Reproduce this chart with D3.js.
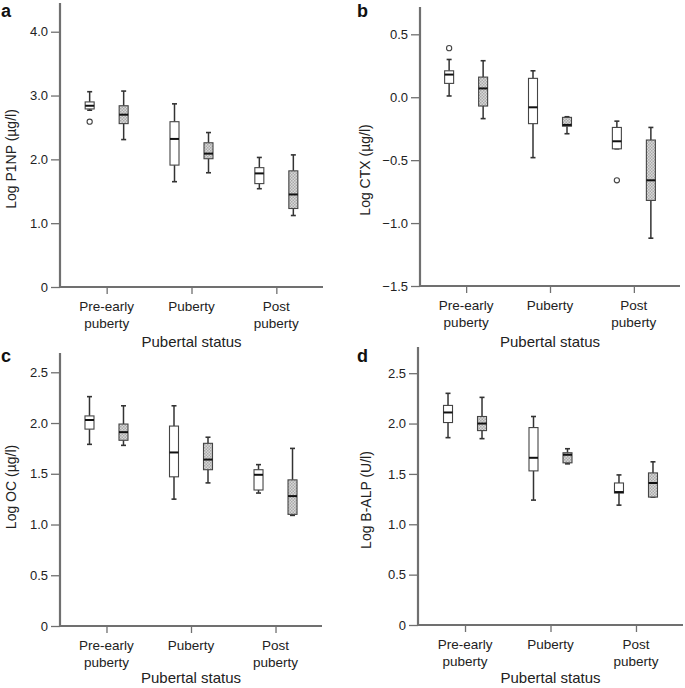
<!DOCTYPE html>
<html>
<head>
<meta charset="utf-8">
<script src="https://cdn.jsdelivr.net/npm/d3@7"></script>
<style>
  html, body { margin: 0; padding: 0; background: #fff; }
  svg { display: block; font-family: "Liberation Sans", Arial, sans-serif; }
</style>
</head>
<body>
<svg id="chart" width="685" height="688"></svg>
<script>
// ---------- DATA ----------
const categories = ["Pre-early puberty", "Puberty", "Post puberty"];
const categoryLines = [["Pre-early", "puberty"], ["Puberty"], ["Post", "puberty"]];
const groups = ["Group 1", "Group 2"];
const xTitle = "Pubertal status";

// five-number summaries per category: [lower whisker, Q1, median, Q3, upper whisker]
const p1npGroup1 = [[2.77, 2.79, 2.84, 2.90, 3.06], [1.65, 1.91, 2.32, 2.59, 2.87], [1.54, 1.62, 1.78, 1.87, 2.03]];
const p1npGroup2 = [[2.31, 2.56, 2.70, 2.84, 3.07], [1.79, 2.01, 2.09, 2.26, 2.42], [1.12, 1.23, 1.45, 1.82, 2.07]];
const p1npOutliers = [{ cat: 0, group: 0, value: 2.59 }];
const p1npTicks = [0, 1, 2, 3, 4];
const p1npTickLabels = ["0", "1.0", "2.0", "3.0", "4.0"];

const ctxGroup1 = [[0.01, 0.11, 0.18, 0.21, 0.30], [-0.48, -0.21, -0.08, 0.15, 0.21], [-0.41, -0.41, -0.35, -0.24, -0.19]];
const ctxGroup2 = [[-0.17, -0.07, 0.07, 0.16, 0.29], [-0.29, -0.23, -0.22, -0.16, -0.155], [-1.12, -0.82, -0.66, -0.34, -0.24]];
const ctxOutliers = [{ cat: 0, group: 0, value: 0.39 }, { cat: 2, group: 0, value: -0.66 }];
const ctxTicks = [-1.5, -1.0, -0.5, 0.0, 0.5];
const ctxTickLabels = ["\u22121.5", "\u22121.0", "\u22120.5", "0.0", "0.5"];

const ocGroup1 = [[1.79, 1.94, 2.03, 2.07, 2.26], [1.25, 1.47, 1.71, 1.97, 2.17], [1.31, 1.34, 1.49, 1.54, 1.59]];
const ocGroup2 = [[1.78, 1.83, 1.91, 1.99, 2.17], [1.41, 1.54, 1.64, 1.80, 1.86], [1.09, 1.10, 1.28, 1.44, 1.75]];
const ocOutliers = [];
const ocTicks = [0, 0.5, 1.0, 1.5, 2.0, 2.5];
const ocTickLabels = ["0", "0.5", "1.0", "1.5", "2.0", "2.5"];

const balpGroup1 = [[1.86, 2.01, 2.11, 2.18, 2.30], [1.24, 1.53, 1.66, 1.96, 2.07], [1.19, 1.31, 1.32, 1.41, 1.49]];
const balpGroup2 = [[1.85, 1.93, 2.00, 2.07, 2.26], [1.60, 1.61, 1.69, 1.71, 1.75], [1.27, 1.27, 1.41, 1.51, 1.62]];
const balpOutliers = [];
const balpTicks = [0, 0.5, 1.0, 1.5, 2.0, 2.5];
const balpTickLabels = ["0", "0.5", "1.0", "1.5", "2.0", "2.5"];

// ---------- LAYOUT ----------
const panels = [
  { letter: "a", lx: 1, ly: 17, x0: 60, x1: 323, yTop: 3, yBottom: 287, domain: [0, 4.45], titleGap: 60,
    title: "Log P1NP (\u00b5g/l)", tx: 16, ty: 159,
    g1: p1npGroup1, g2: p1npGroup2, outliers: p1npOutliers, ticks: p1npTicks, tickLabels: p1npTickLabels },
  { letter: "b", lx: 357, ly: 17, x0: 420, x1: 680, yTop: 7, yBottom: 286, domain: [-1.5, 0.717], titleGap: 61,
    title: "Log CTX (\u00b5g/l)", tx: 370, ty: 170,
    g1: ctxGroup1, g2: ctxGroup2, outliers: ctxOutliers, ticks: ctxTicks, tickLabels: ctxTickLabels },
  { letter: "c", lx: 1, ly: 362, x0: 60, x1: 322, yTop: 353, yBottom: 626, domain: [0, 2.69], titleGap: 57,
    title: "Log OC (\u00b5g/l)", tx: 16, ty: 487,
    g1: ocGroup1, g2: ocGroup2, outliers: ocOutliers, ticks: ocTicks, tickLabels: ocTickLabels },
  { letter: "d", lx: 357, ly: 362, x0: 418, x1: 683, yTop: 347, yBottom: 625, domain: [0, 2.76], titleGap: 58,
    title: "Log B-ALP (U/l)", tx: 371, ty: 500,
    g1: balpGroup1, g2: balpGroup2, outliers: balpOutliers, ticks: balpTicks, tickLabels: balpTickLabels }
];

const svg = d3.select("#chart");
const defs = svg.append("defs");
const pat = defs.append("pattern").attr("id", "hatch")
  .attr("width", 3).attr("height", 3).attr("patternUnits", "userSpaceOnUse");
pat.append("rect").attr("width", 3).attr("height", 3).attr("fill", "#d9d9d9");
pat.append("rect").attr("width", 1.5).attr("height", 1.5).attr("fill", "#a9a9a9");
pat.append("rect").attr("x", 1.5).attr("y", 1.5).attr("width", 1.5).attr("height", 1.5).attr("fill", "#a9a9a9");

const axisColor = "#707070";
const textColor = "#222";

panels.forEach(p => {
  const g = svg.append("g");
  const y = d3.scaleLinear().domain(p.domain).range([p.yBottom, p.yTop]);
  const x = d3.scalePoint().domain(categories).range([p.x0, p.x1]).padding(0.55);
  const sub = d3.scaleBand().domain(groups).range([-34, 34]);
  const boxW = 9, capW = 5;

  // y axis
  const ya = g.append("g").attr("transform", `translate(${p.x0},0)`)
    .call(d3.axisLeft(y).tickValues(p.ticks).tickFormat((d, i) => p.tickLabels[i]).tickSize(9).tickPadding(3));
  ya.select(".domain").remove();
  ya.selectAll(".tick line").attr("stroke", axisColor).attr("stroke-width", 1.3);
  ya.selectAll(".tick text").attr("fill", textColor).style("font-size", "13px").style("font-family", "Liberation Sans, Arial, sans-serif");

  // x axis
  const xa = g.append("g").attr("transform", `translate(0,${p.yBottom})`)
    .call(d3.axisBottom(x).tickSize(7).tickFormat(""));
  xa.select(".domain").remove();
  xa.selectAll(".tick line").attr("stroke", axisColor).attr("stroke-width", 1.3);

  // axis lines
  g.append("line").attr("x1", p.x0).attr("x2", p.x0).attr("y1", p.yTop).attr("y2", p.yBottom + 1)
    .attr("stroke", axisColor).attr("stroke-width", 2.2);
  g.append("line").attr("x1", p.x0 - 1).attr("x2", p.x1).attr("y1", p.yBottom).attr("y2", p.yBottom)
    .attr("stroke", axisColor).attr("stroke-width", 2.2);

  // category labels
  categories.forEach((c, i) => {
    const t = g.append("text").attr("x", x(c)).attr("text-anchor", "middle")
      .attr("fill", textColor).style("font-size", "13.5px");
    categoryLines[i].forEach((line, k) => {
      t.append("tspan").attr("x", x(c)).attr("y", p.yBottom + 24 + k * 16.5).text(line);
    });
  });
  g.append("text").attr("x", (p.x0 + p.x1) / 2).attr("y", p.yBottom + p.titleGap)
    .attr("text-anchor", "middle").attr("fill", textColor).style("font-size", "15px").text(xTitle);

  // y title
  g.append("text").attr("transform", `translate(${p.tx},${p.ty}) rotate(-90)`)
    .attr("text-anchor", "middle").attr("fill", textColor).style("font-size", "14px").text(p.title);

  // panel letter
  g.append("text").attr("x", p.lx).attr("y", p.ly).attr("fill", "#111")
    .style("font-size", "18px").style("font-weight", "bold").text(p.letter);

  // boxes
  [p.g1, p.g2].forEach((series, gi) => {
    series.forEach((s, ci) => {
      const cx = x(categories[ci]) + sub(groups[gi]) + sub.bandwidth() / 2;
      const [lo, q1, med, q3, hi] = s;
      const bg = g.append("g");
      bg.append("line").attr("x1", cx).attr("x2", cx).attr("y1", y(hi)).attr("y2", y(q3))
        .attr("stroke", "#333").attr("stroke-width", 1.5);
      bg.append("line").attr("x1", cx).attr("x2", cx).attr("y1", y(q1)).attr("y2", y(lo))
        .attr("stroke", "#333").attr("stroke-width", 1.5);
      bg.append("line").attr("x1", cx - capW / 2).attr("x2", cx + capW / 2).attr("y1", y(hi)).attr("y2", y(hi))
        .attr("stroke", "#333").attr("stroke-width", 1.6);
      bg.append("line").attr("x1", cx - capW / 2).attr("x2", cx + capW / 2).attr("y1", y(lo)).attr("y2", y(lo))
        .attr("stroke", "#333").attr("stroke-width", 1.6);
      bg.append("rect").attr("x", cx - boxW / 2).attr("y", y(q3)).attr("width", boxW)
        .attr("height", Math.max(0.5, y(q1) - y(q3)))
        .attr("fill", gi === 0 ? "#fff" : "url(#hatch)").attr("stroke", "#444").attr("stroke-width", 1.1);
      bg.append("line").attr("x1", cx - boxW / 2).attr("x2", cx + boxW / 2).attr("y1", y(med)).attr("y2", y(med))
        .attr("stroke", "#111").attr("stroke-width", 2);
    });
  });

  // outliers
  p.outliers.forEach(o => {
    const cx = x(categories[o.cat]) + sub(groups[o.group]) + sub.bandwidth() / 2;
    g.append("circle").attr("cx", cx).attr("cy", y(o.value)).attr("r", 2.6)
      .attr("fill", "#fff").attr("stroke", "#444").attr("stroke-width", 1.1);
  });
});
</script>
</body>
</html>
